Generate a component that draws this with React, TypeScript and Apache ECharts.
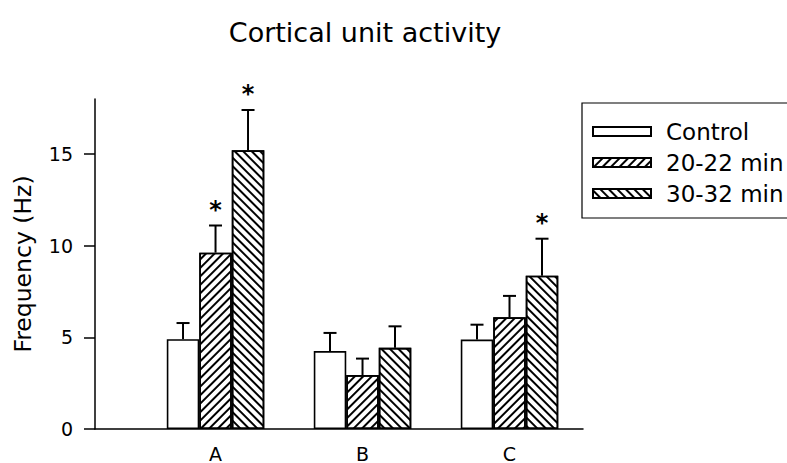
import React, { useEffect, useRef } from "react";
import * as echarts from "echarts";

const categories = ["A", "B", "C"];
const seriesNames = ["Control", "20-22 min", "30-32 min"];
const controlValues = [4.9, 4.25, 4.88];
const min20Values = [9.62, 2.94, 6.09];
const min30Values = [15.2, 4.43, 8.36];
const controlErr = [0.88, 0.99, 0.81];
const min20Err = [1.48, 0.9, 1.17];
const min30Err = [2.2, 1.17, 2.02];
const controlSig = [false, false, false];
const min20Sig = [true, false, false];
const min30Sig = [true, false, true];
const yTicks = [0, 5, 10, 15];
const xTicks = [0, 1, 2];

const FONT = "'DejaVu Sans', sans-serif";
const BAR_W = 32.5;
const CAP_W = 13;

const hatch = (rotation: number | null) =>
  rotation === null
    ? undefined
    : {
        symbol: "rect",
        symbolSize: 1,
        dashArrayX: [1, 0],
        dashArrayY: [2, 4],
        rotation,
        color: "#000",
      };

export default function App() {
  const ref = useRef<HTMLDivElement>(null);
  useEffect(() => {
    document.body.style.margin = "0";
    const chart = echarts.init(ref.current!, null, { renderer: "svg" });
    const groups = [
      { values: controlValues, err: controlErr, sig: controlSig, decal: hatch(null) },
      { values: min20Values, err: min20Err, sig: min20Sig, decal: hatch(-Math.PI / 4) },
      { values: min30Values, err: min30Err, sig: min30Sig, decal: hatch(Math.PI / 4) },
    ];
    const barSeries = groups.map((g, s) => ({
      type: "bar",
      name: seriesNames[s],
      data: g.values.map((v, i) => [i, v]),
      barWidth: BAR_W,
      barGap: "0%",
      itemStyle: {
        color: "#fff",
        borderColor: "#000",
        borderWidth: 1.6,
        ...(g.decal ? { decal: g.decal } : {}),
      },
      z: 2,
    }));
    const errSeries = {
      type: "custom",
      name: "err",
      z: 3,
      data: groups.flatMap((g, s) =>
        g.values.map((v, i) => [i, v, v + g.err[i], g.sig[i] ? 1 : 0, s])
      ),
      renderItem: (params: any, api: any) => {
        const x = api.value(0);
        const v = api.value(1);
        const top = api.value(2);
        const sig = api.value(3);
        const s = api.value(4);
        const base = api.coord([x, v]);
        const tp = api.coord([x, top]);
        const cx = base[0] + (s - 1) * BAR_W;
        const children: any[] = [
          {
            type: "line",
            shape: { x1: cx, y1: base[1], x2: cx, y2: tp[1] },
            style: { stroke: "#000", lineWidth: 2 },
          },
          {
            type: "line",
            shape: { x1: cx - CAP_W / 2, y1: tp[1], x2: cx + CAP_W / 2, y2: tp[1] },
            style: { stroke: "#000", lineWidth: 2 },
          },
        ];
        if (sig) {
          children.push({
            type: "text",
            x: cx,
            y: tp[1] - 16,
            style: {
              text: "*",
              fontSize: 24,
              fontWeight: "bold",
              fontFamily: FONT,
              align: "center",
              verticalAlign: "middle",
              fill: "#000",
            },
          });
        }
        return { type: "group", children };
      },
    };
    chart.setOption({
      animation: false,
      backgroundColor: "#fff",
      title: {
        text: "Cortical unit activity",
        left: 360,
        top: 14,
        textAlign: "center",
        textStyle: { fontFamily: FONT, fontSize: 27, fontWeight: "normal", color: "#000" },
      },
      legend: {
        data: seriesNames,
        orient: "vertical",
        left: 582,
        top: 103,
        padding: [17, 60, 13, 10],
        itemWidth: 58,
        itemHeight: 9,
        itemGap: 8,
        icon: "rect",
        borderColor: "#000",
        borderWidth: 1.2,
        selectedMode: false,
        textStyle: { fontFamily: FONT, fontSize: 23, color: "#000", padding: [0, 0, 0, 10] },
      },
      grid: { left: 95, right: 204, top: 99, bottom: 31, containLabel: false },
      xAxis: {
        type: "value",
        min: -0.82,
        max: 2.5,
        splitLine: { show: false },
        axisTick: { show: false },
        axisLine: { show: true, onZero: false, lineStyle: { color: "#000", width: 1.5 } },
        axisLabel: {
          customValues: xTicks,
          formatter: (v: number) => categories[Math.round(v)] ?? "",
          margin: 15,
          fontFamily: FONT,
          fontSize: 19,
          color: "#000",
        },
      },
      yAxis: {
        type: "value",
        min: 0,
        max: 18,
        name: "Frequency (Hz)",
        nameLocation: "middle",
        nameGap: 60,
        nameTextStyle: { fontFamily: FONT, fontSize: 23.5, color: "#000" },
        splitLine: { show: false },
        axisLine: { show: true, onZero: false, lineStyle: { color: "#000", width: 1.5 } },
        axisTick: {
          show: true,
          length: 11,
          customValues: yTicks,
          lineStyle: { color: "#000", width: 1.5 },
        },
        axisLabel: {
          customValues: yTicks,
          margin: 22,
          fontFamily: FONT,
          fontSize: 19,
          color: "#000",
        },
      },
      series: [...barSeries, errSeries],
    });
    return () => chart.dispose();
  }, []);
  return (
    <div
      ref={ref}
      style={{ position: "fixed", left: 0, top: 0, width: 787, height: 463 }}
    />
  );
}
